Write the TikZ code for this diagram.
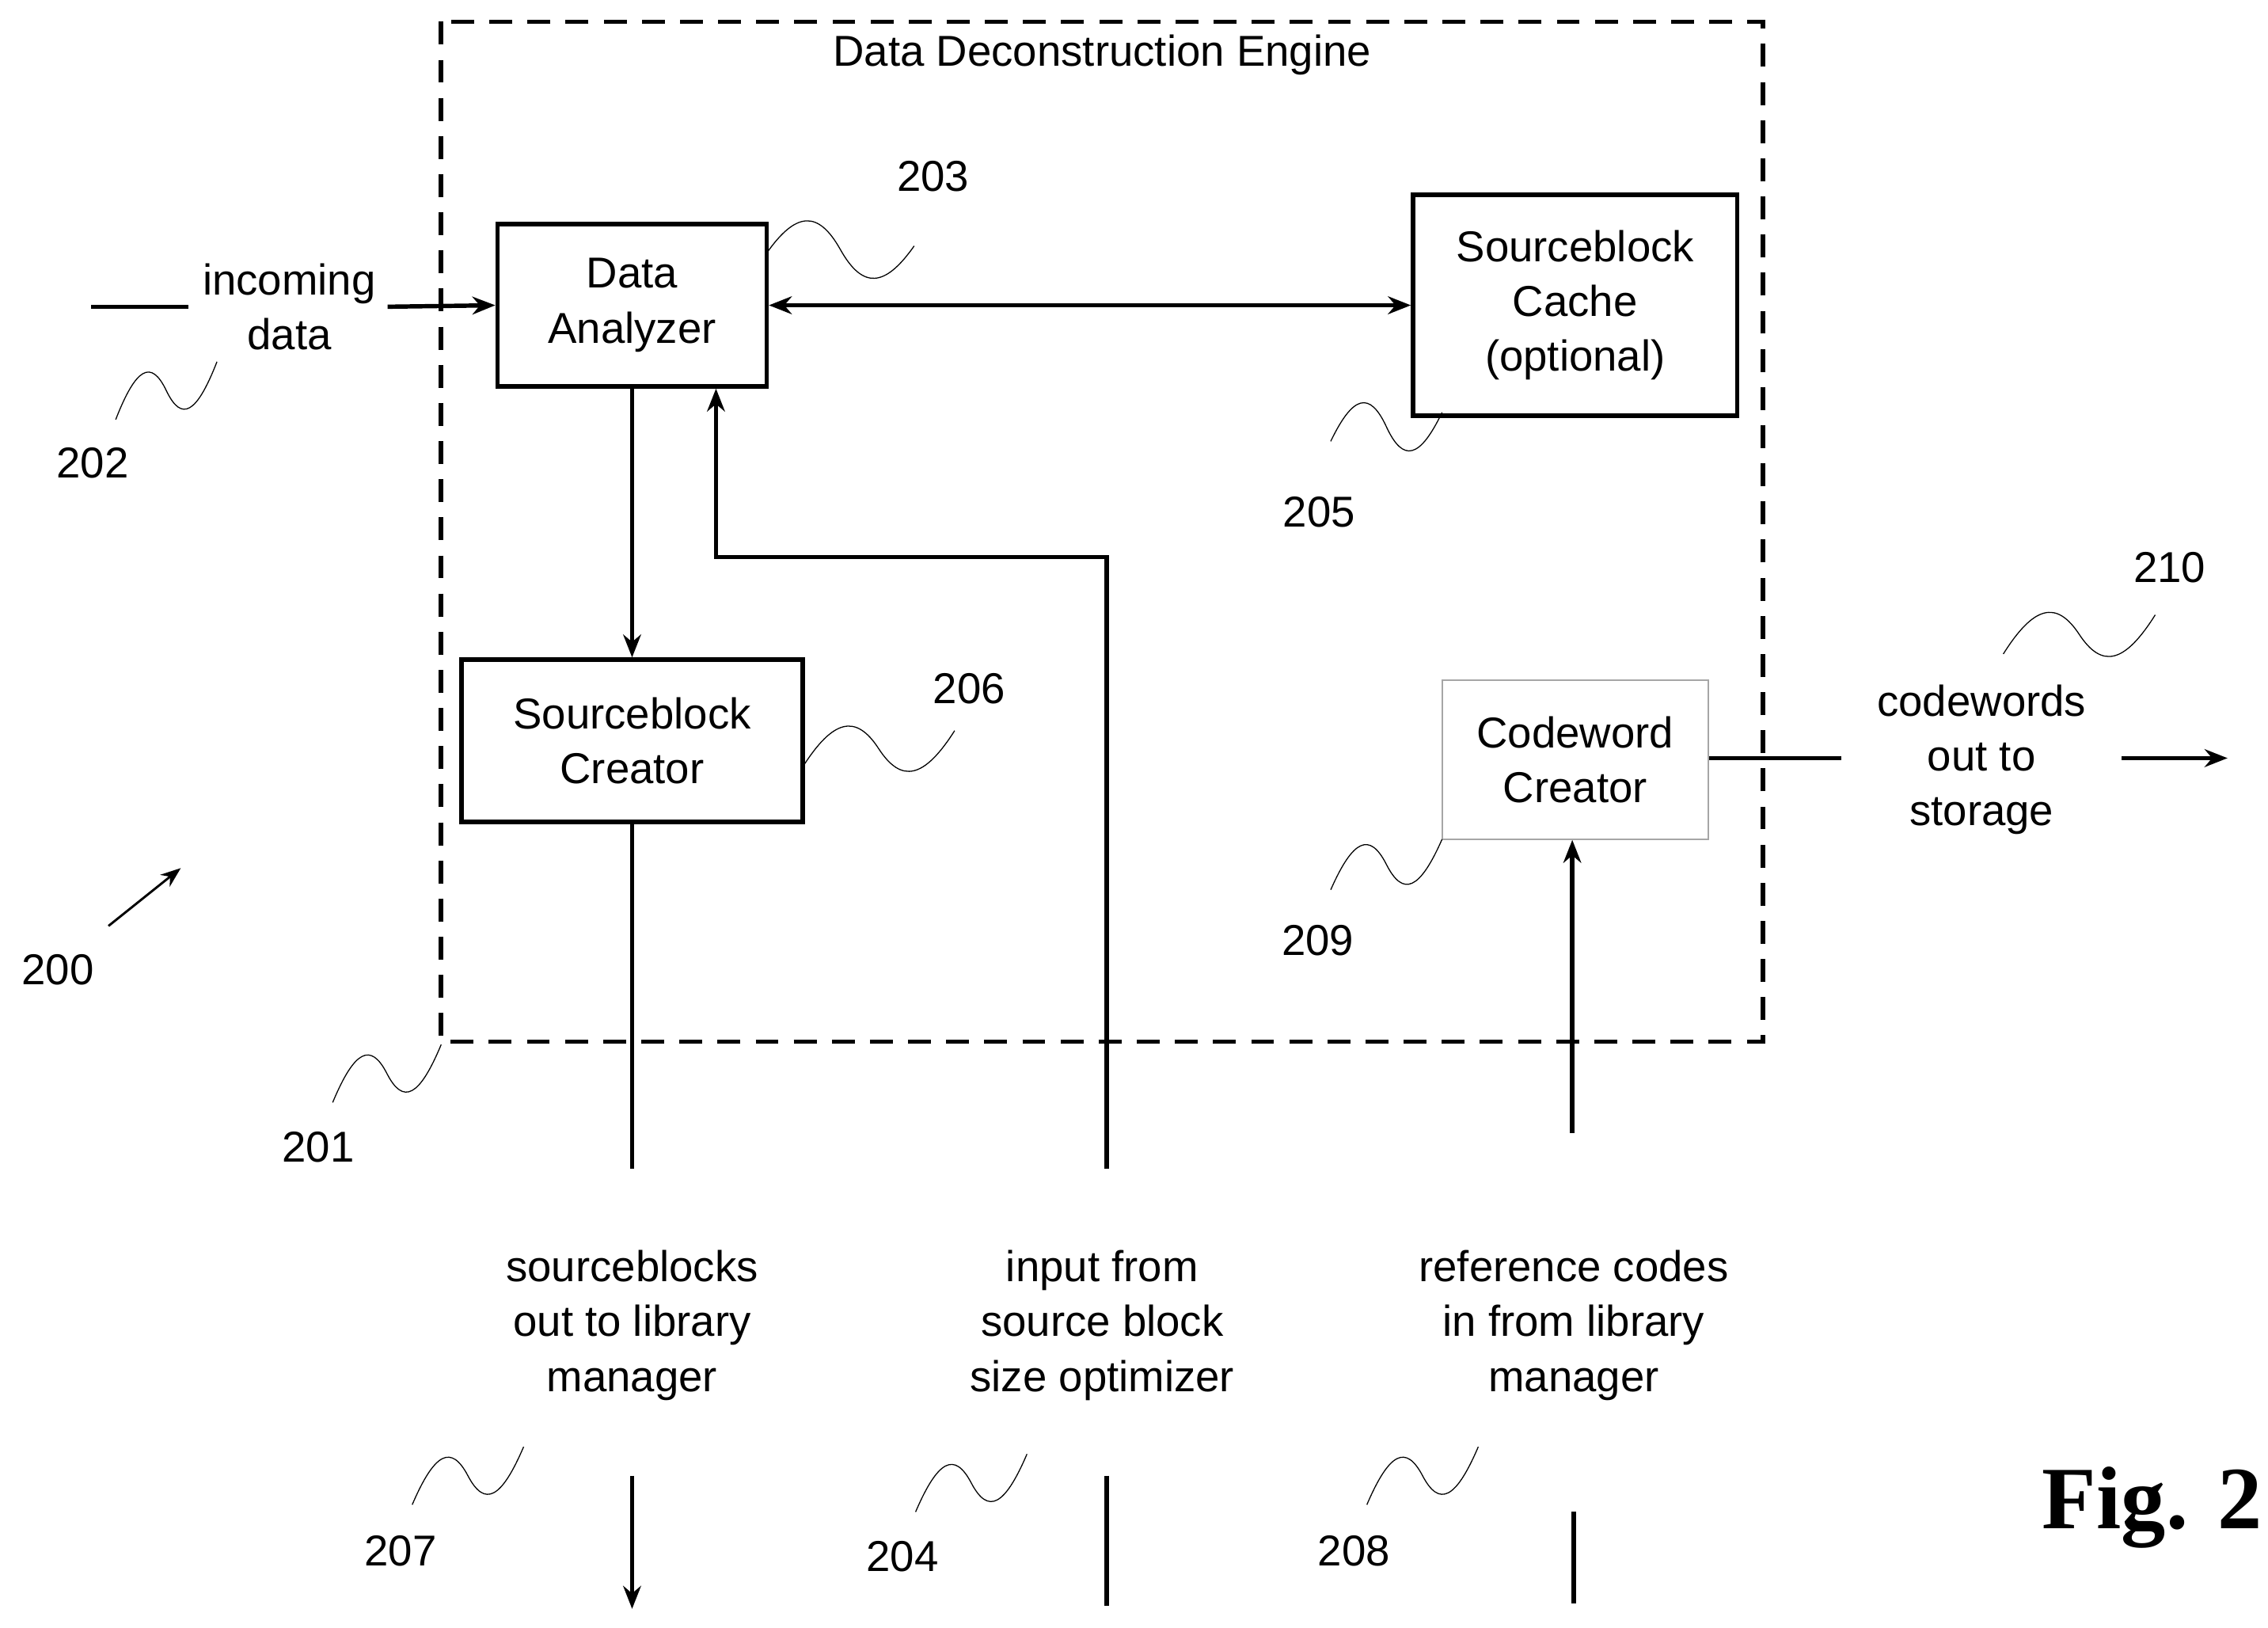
\documentclass[tikz,border=0pt]{standalone}
\usepackage{fontspec}
\setmainfont{Liberation Sans}
\newfontfamily\figfont{Liberation Serif}
\usetikzlibrary{calc,arrows.meta}
\newcommand\squig[2]{\draw[thin] (#1) .. controls ($(#1)!0.2!(#2)+(0,-28)$) and ($(#1)!0.35!(#2)+(0,-28)$) .. ($(#1)!0.5!(#2)$) .. controls ($(#1)!0.65!(#2)+(0,28)$) and ($(#1)!0.8!(#2)+(0,28)$) .. (#2);}
\begin{document}
\begin{tikzpicture}[x=0.02cm,y=-0.02cm,
  box/.style={draw,line width=1.8pt,inner sep=0},
  lbl/.style={align=center,font=\fontsize{17}{21.6}\selectfont},
  num/.style={font=\fontsize{17}{20}\selectfont},
  ln/.style={line width=1.7pt},
  arr/.style={line width=1.7pt,-{Stealth[length=9pt,width=7pt]}}]
\useasboundingbox (0,0) rectangle (1568,1125);
\draw[dashed,line width=1.8pt,dash pattern=on 9pt off 6pt] (305,15) rectangle (1219,720);
\node[lbl] (title) at (762,38) {Data Deconstruction Engine};
\node[box,minimum width=186*0.02cm,minimum height=112*0.02cm,lbl] (da) at (437,211) {Data\\Analyzer};
\node[box,minimum width=224*0.02cm,minimum height=153*0.02cm,lbl] (sc) at (1089,211) {Sourceblock\\Cache\\(optional)};
\node[box,minimum width=236*0.02cm,minimum height=112*0.02cm,lbl] (scr) at (437,512) {Sourceblock\\Creator};
\node[draw=gray!70,line width=0.6pt,minimum width=184*0.02cm,minimum height=110*0.02cm,lbl] (cc) at (1089,525) {Codeword\\Creator};
\node[lbl] (inc) at (200,212) {incoming\\data};
\node[lbl] (cw) at (1370,525) {codewords\\out to\\storage};
\node[lbl] (t207) at (437,916) {sourceblocks\\out to library\\manager};
\node[lbl] (t204) at (762,916) {input from\\source block\\size optimizer};
\node[lbl] (t208) at (1088,916) {reference codes\\in from library\\manager};
\coordinate (i0) at (63,212); \coordinate (i1) at (130,212); \coordinate (i2) at (268,212);
\draw[ln] (i0)--(i1);
\draw[arr] (i2)--(da.west);
\draw[line width=1.7pt,{Stealth[length=9pt,width=7pt]}-{Stealth[length=9pt,width=7pt]}] (da.east)--(sc.west);
\draw[arr] (da.south)--(scr.north);
\coordinate (f0) at (765,808); \coordinate (f1) at (765,385); \coordinate (f2) at (495,385);
\draw[arr] (f0)--(f1)--(f2)--(f2|-da.south);
\coordinate (s1) at (437,808);
\draw[ln] (scr.south)--(s1);
\coordinate (c0) at (1087,783);
\draw[arr] (c0)--(c0|-cc.south);
\coordinate (o1) at (1273,524); \coordinate (o2) at (1467,524); \coordinate (o3) at (1540,524);
\draw[ln] (cc.east|-o1)--(o1);
\draw[arr] (o2)--(o3);
\coordinate (b1) at (437,1020); \coordinate (b2) at (437,1112);
\draw[arr] (b1)--(b2);
\coordinate (b3) at (765,1020); \coordinate (b4) at (765,1110);
\draw[ln] (b3)--(b4);
\coordinate (b5) at (1088,1045); \coordinate (b6) at (1088,1108);
\draw[ln] (b5)--(b6);
\coordinate (a0) at (75,640); \coordinate (a1) at (125,600);
\draw[line width=0.9pt,-{Stealth[length=8pt,width=6pt]}] (a0)--(a1);
\node[num] (n200) at (40,670) {200};
\node[num] (n201) at (220,793) {201};
\node[num] (n202) at (64,320) {202};
\node[num] (n203) at (645,122) {203};
\node[num] (n204) at (624,1076) {204};
\node[num] (n205) at (912,354) {205};
\node[num] (n206) at (670,476) {206};
\node[num] (n207) at (277,1072) {207};
\node[num] (n208) at (936,1072) {208};
\node[num] (n209) at (911,650) {209};
\node[num] (n210) at (1500,392) {210};
\squig{80,290}{150,250}
\squig{530,175}{632,170}
\squig{920,305}{997,285}
\squig{555,530}{660,505}
\squig{920,615}{997,580}
\squig{230,762}{305,722}
\squig{1385,452}{1490,425}
\squig{285,1040}{362,1000}
\squig{633,1045}{710,1005}
\squig{945,1040}{1022,1000}
\node[font=\figfont\bfseries\fontsize{35}{40}\selectfont] (fig) at (1488,1042) {Fig. 2};
\end{tikzpicture}
\end{document}
